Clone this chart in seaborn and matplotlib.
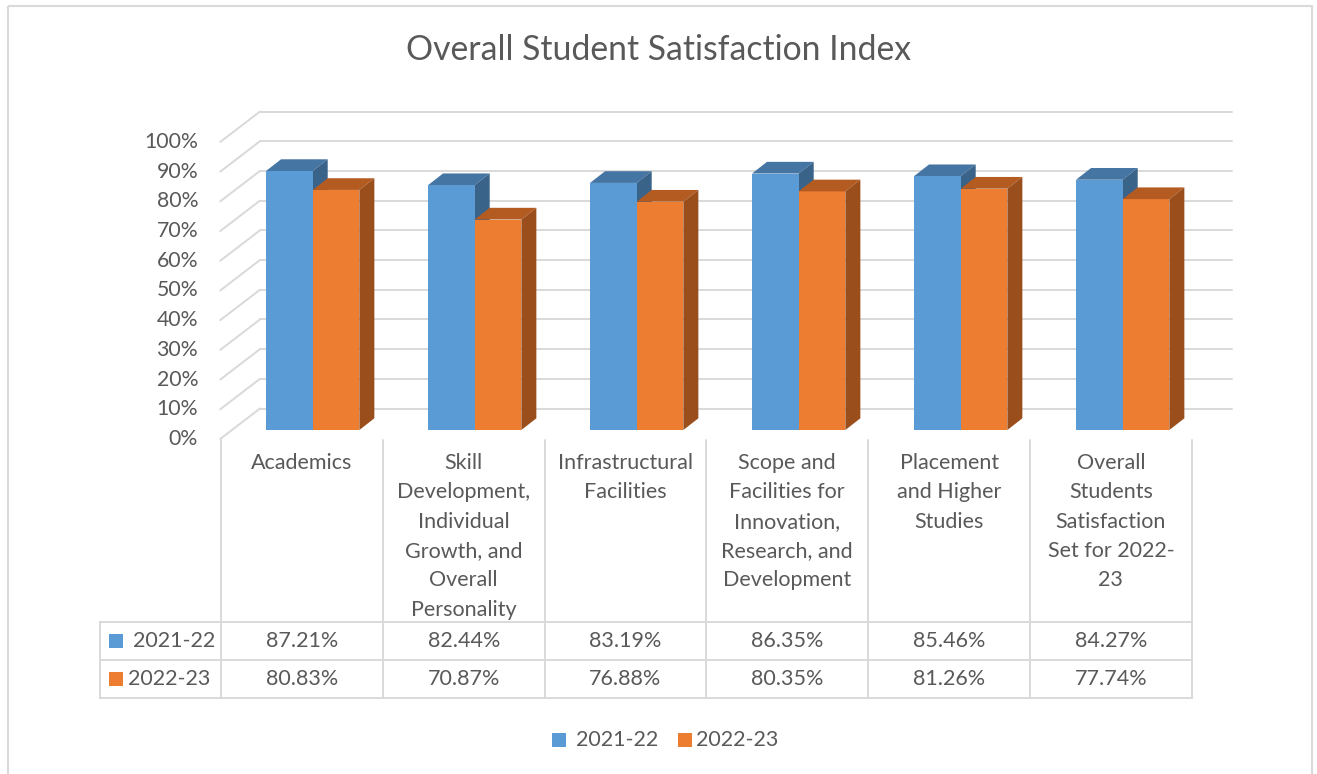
import pandas as pd
import matplotlib.pyplot as plt
import seaborn as sns
from matplotlib.patches import Polygon, Rectangle

# ==============================
# DADOS
# ==============================
categories = [
    "Academics",
    "Skill Development, Individual Growth, and Overall Personality",
    "Infrastructural Facilities",
    "Scope and Facilities for Innovation, Research, and Development",
    "Placement and Higher Studies",
    "Overall Students Satisfaction Set for 2022-23",
]
# linhas dos rótulos como aparecem no gráfico
category_lines = [
    ["Academics"],
    ["Skill", "Development,", "Individual", "Growth, and", "Overall", "Personality"],
    ["Infrastructural", "Facilities"],
    ["Scope and", "Facilities for", "Innovation,", "Research, and", "Development"],
    ["Placement", "and Higher", "Studies"],
    ["Overall", "Students", "Satisfaction", "Set for 2022-", "23"],
]
series_names = ["2021-22", "2022-23"]
values_2122 = [87.21, 82.44, 83.19, 86.35, 85.46, 84.27]
values_2223 = [80.83, 70.87, 76.88, 80.35, 81.26, 77.74]
yticks = [0, 10, 20, 30, 40, 50, 60, 70, 80, 90, 100]

# ==============================
# CONFIGURAÇÕES
# ==============================
sns.set_style("white")
plt.rcParams["font.family"] = ["Lato", "DejaVu Sans"]

W, H = 1317, 774
BLUE, ORANGE = "#5B9BD5", "#ED7D31"
SHADE = {BLUE: ("#4575A3", "#3A6389"), ORANGE: ("#B45B21", "#9A4E1C")}
GRID = "#D9D9D9"
TXT = "#595959"
FS = 15.5

PX_CAT, PX_Y = 162.0, 297.0          # pixels por categoria / por 100%
DEPTH = (15 / PX_CAT, 11.7 / PX_Y)   # profundidade das barras
FRONT = (-11.5 / PX_CAT, -9 / PX_Y)  # plano da frente (piso)
BACK = (28.3 / PX_CAT, 21.5 / PX_Y)  # parede do fundo

df = pd.DataFrame({
    "Categoria": categories * 2,
    "Ano": [series_names[0]] * 6 + [series_names[1]] * 6,
    "Valor": [v / 100 for v in values_2122 + values_2223],
})

fig = plt.figure(figsize=(W / 100, H / 100), dpi=100)

# camada de fundo em pixels (título, tabela, legenda, borda)
ov = fig.add_axes([0, 0, 1, 1], zorder=0)
ov.set_xlim(0, W)
ov.set_ylim(H, 0)
ov.axis("off")

ax = fig.add_axes([231.7 / W, (H - 430) / H, 972 / W, 297 / H], zorder=1)
ax.set_facecolor("none")

# ---------- paredes (grade) ----------
for t in yticks:
    v = t / 100
    ax.plot([-0.5 + FRONT[0], -0.5 + BACK[0]], [v + FRONT[1], v + BACK[1]],
            color=GRID, lw=1.4, clip_on=False, zorder=0.5)
    ax.plot([-0.5 + BACK[0], 5.5 + BACK[0]], [v + BACK[1], v + BACK[1]],
            color=GRID, lw=1.4, clip_on=False, zorder=0.5)

# ---------- barras ----------
sns.barplot(data=df, x="Categoria", y="Valor", hue="Ano", order=categories,
            palette=[BLUE, ORANGE], width=0.576, saturation=1, legend=False,
            ax=ax, zorder=2)

for p in list(ax.patches):
    p.set_edgecolor("none")
    x0, w, h = p.get_x(), p.get_width(), p.get_height()
    fc = BLUE if abs(p.get_facecolor()[0] - 0.357) < 0.05 else ORANGE
    top_c, side_c = SHADE[fc]
    z = 1.5 if fc == BLUE else 2.5
    dx, dy = DEPTH
    top = Polygon([(x0, h), (x0 + w, h), (x0 + w + dx, h + dy), (x0 + dx, h + dy)],
                  closed=True, facecolor=top_c, edgecolor="none", clip_on=False, zorder=z)
    side = Polygon([(x0 + w, 0), (x0 + w, h), (x0 + w + dx, h + dy), (x0 + w + dx, dy)],
                   closed=True, facecolor=side_c, edgecolor="none", clip_on=False, zorder=z)
    ax.add_patch(top)
    ax.add_patch(side)

ax.set_xlim(-0.5, 5.5)
ax.set_ylim(0, 1)
ax.set_xticks([])
ax.set_yticks([])
ax.set_xlabel("")
ax.set_ylabel("")
sns.despine(ax=ax, left=True, bottom=True)

# rótulos do eixo y (plano da frente)
for t in yticks:
    ax.text(-0.5 - 33.7 / PX_CAT, t / 100 + FRONT[1], f"{t}%", ha="right", va="center",
            fontsize=15.3, color=TXT, clip_on=False)

# ---------- título ----------
ov.text(659, 50, "Overall Student Satisfaction Index", ha="center", va="center",
        fontsize=24.3, color=TXT)

# ---------- tabela de dados ----------
col_x = [221 + 161.8 * i for i in range(7)]
for x in col_x:
    ov.plot([x, x], [440, 698], color=GRID, lw=1.4)
ov.plot([100, 100], [622, 698], color=GRID, lw=1.4)
for y in [622, 660, 698]:
    ov.plot([100, col_x[-1]], [y, y], color=GRID, lw=1.4)

for i, lines in enumerate(category_lines):
    cx = (col_x[i] + col_x[i + 1]) / 2
    for k, line in enumerate(lines):
        ov.text(cx, 463 + 29.3 * k, line, ha="center", va="center", fontsize=FS, color=TXT)

for r, (vals, name, col, tx) in enumerate(zip([values_2122, values_2223], series_names,
                                               [BLUE, ORANGE], [133, 128])):
    cy = 641 + 38 * r
    ov.add_patch(Rectangle((109, cy - 7), 14, 14, facecolor=col, edgecolor="none"))
    ov.text(tx, cy, name, ha="left", va="center", fontsize=FS, color=TXT)
    for i, v in enumerate(vals):
        cx = (col_x[i] + col_x[i + 1]) / 2
        ov.text(cx, cy, f"{v:.2f}%", ha="center", va="center", fontsize=FS, color=TXT)

# ---------- legenda ----------
for name, col, sx in zip(series_names, [BLUE, ORANGE], [552, 678]):
    ov.add_patch(Rectangle((sx, 733), 14, 14, facecolor=col, edgecolor="none"))
    ov.text(sx + 24 if col == BLUE else sx + 18, 740, name, ha="left", va="center",
            fontsize=FS, color=TXT)

# ---------- borda ----------
ov.add_patch(Rectangle((8, 6), 1304, 780, facecolor="none", edgecolor=GRID, lw=1.5,
                       clip_on=False))

plt.savefig("out.png", dpi=100)
